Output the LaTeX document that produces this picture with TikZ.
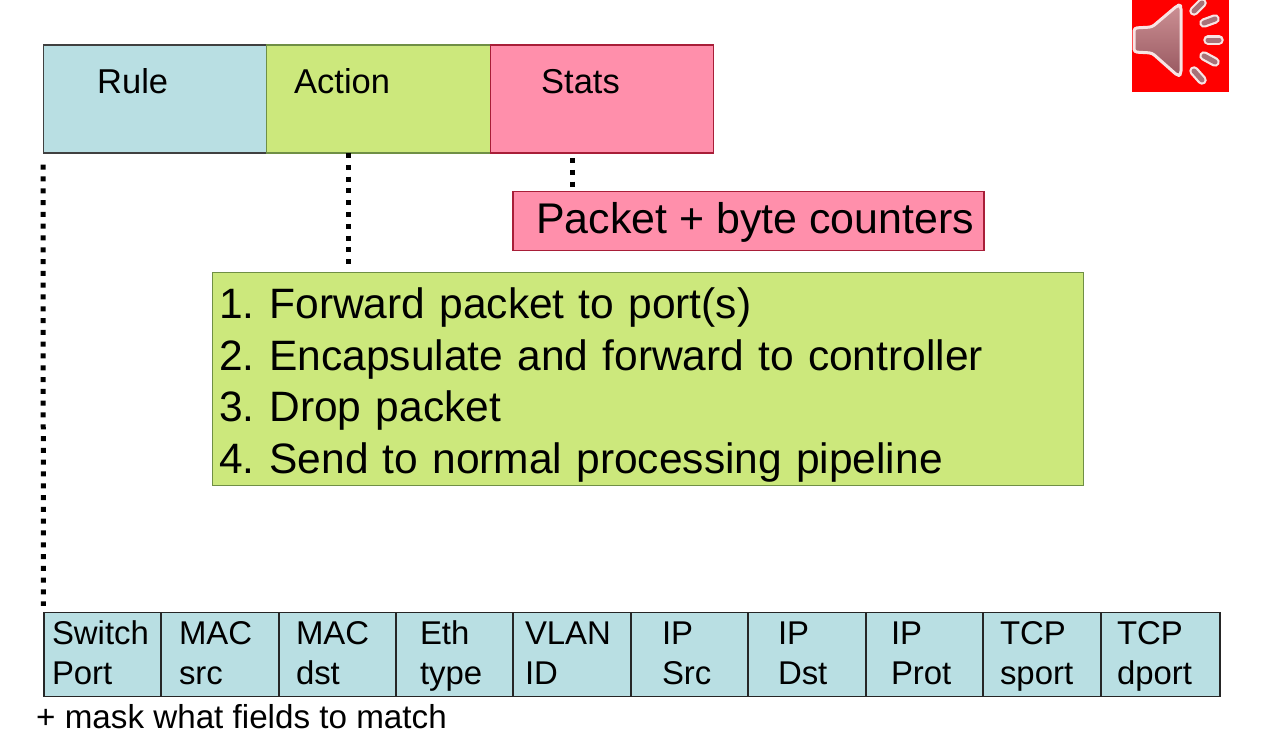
\documentclass[tikz,border=0pt]{standalone}
\usepackage{fontspec}
\setmainfont{Liberation Sans}
\usetikzlibrary{arrows.meta}
\definecolor{ruleblue}{HTML}{B9DFE3}
\definecolor{actiongreen}{HTML}{CCE87C}
\definecolor{statspink}{HTML}{FF8FAB}
\definecolor{actionedge}{HTML}{6F8F45}
\definecolor{statsedge}{HTML}{A81E38}
\definecolor{speakertop}{HTML}{CC9094}
\definecolor{speakerbot}{HTML}{985860}
\definecolor{speakerline}{HTML}{F8E4E4}
\newcommand{\listitem}[2]{\makebox[50.5pt][l]{#1}#2}
\begin{document}
\begin{tikzpicture}[x=1pt,y=-1pt]
		\useasboundingbox (0,0) rectangle (1265,742);
		\begin{scope}[every node/.style={minimum width=223.5pt,minimum height=108pt,inner sep=0pt,line width=1.3pt}]
			\node (rule) [draw=black!75,fill=ruleblue] at (155.5,99) {};
			\node (action) [draw=actionedge,fill=actiongreen] at (378.5,99) {};
			\node (stats) [draw=statsedge,fill=statspink] at (602,99) {};
		\end{scope}
		\begin{scope}[every node/.style={anchor=base west,inner sep=0pt,font=\fontsize{34.5}{40}\selectfont}]
			\node (ruletext) at (97,93) {Rule};
			\node (actiontext) at (294,93) {Action};
			\node (statstext) at (541,93) {Stats};
		\end{scope}
		\node (counters) [draw=statsedge,fill=statspink,line width=1.3pt,minimum width=471pt,minimum height=59pt,inner sep=0pt,font=\fontsize{42.9}{48}\selectfont] at (748.5,221) {\rule{0pt}{34pt}\hspace*{13pt}Packet + byte counters};
		\node (actions) [draw=actionedge,fill=actiongreen,line width=1pt,minimum width=871pt,minimum height=213pt,text width=857pt,inner sep=0pt,align=left,font=\fontsize{42.5}{51.7}\selectfont] at (647.5,378.5) {\rule{0pt}{44pt}\listitem{1.}{Forward packet to port(s)}\\\listitem{2.}{Encapsulate and forward to controller}\\\listitem{3.}{Drop packet}\\\listitem{4.}{Send to normal processing pipeline}};
		\begin{scope}[every node/.style={draw=black!85,fill=ruleblue,line width=1.3pt,minimum height=83pt,inner sep=0pt,align=left,font=\fontsize{32.9}{40}\selectfont}]
			\foreach \id/\xa/\xb/\lead/\upper/\lower in {
				f1/44/161/8/Switch/Port,
				f2/161/279/18/MAC/src,
				f3/279/396/17/MAC/dst,
				f4/396/513/24/Eth/type,
				f5/513/631/12/VLAN/ID,
				f6/631/748/31/IP/Src,
				f7/748/866/30/IP/Dst,
				f8/866/983/25/IP/Prot,
				f9/983/1101/17/TCP/sport,
				f10/1101/1220/16/TCP/dport} {
				\pgfmathsetmacro{\cellw}{\xb-\xa}
				\node (\id) [minimum width=\cellw pt,text width=\cellw pt] at ({(\xa+\xb)/2},654.5) {\hspace*{\lead pt}\rule{0pt}{32pt}\upper\\\hspace*{\lead pt}\strut\lower};
			}
		\end{scope}
		\node (mask) [anchor=base west,inner sep=0pt,font=\fontsize{33.2}{40}\selectfont] at (36,728) {+ mask what fields to match};
		\coordinate (actionfoot) at (348,153);
		\coordinate (actionend) at (348,272);
		\coordinate (statsfoot) at (572,153);
		\coordinate (statsend) at (572,191);
		\begin{scope}[every edge/.style={draw=black,line width=5pt,dash pattern=on 5pt off 6.8pt}]
			\path (rule.south west) edge [shorten <=11pt,shorten >=6pt] (f1.north west);
			\path (actionfoot) edge [shorten >=6pt] (actionend);
			\path (statsfoot) edge [shorten <=5pt,shorten >=2pt] (statsend);
		\end{scope}
		% speaker icon
		\fill[red] (1132,0) rectangle (1229,92);
		\draw[draw=speakerline,line width=3pt,line join=round,rounded corners=3pt,top color=speakertop,bottom color=speakerbot] (1134,28) -- (1152,27) -- (1178,5) -- (1181,6) -- (1181,74) -- (1178,76) -- (1152,53) -- (1134,52) -- cycle;
		\foreach \xa/\ya/\xb/\yb in {1194/11/1202/3, 1204/23/1215/19, 1208/40/1219/40, 1204/56/1215/62, 1194/71/1202/80} {
			\draw[speakerline,line width=9.5pt,line cap=round] (\xa,\ya) -- (\xb,\yb);
			\draw[speakerbot!85!white,line width=5pt,line cap=round] (\xa,\ya) -- (\xb,\yb);
		}
	\end{tikzpicture}
\end{document}
